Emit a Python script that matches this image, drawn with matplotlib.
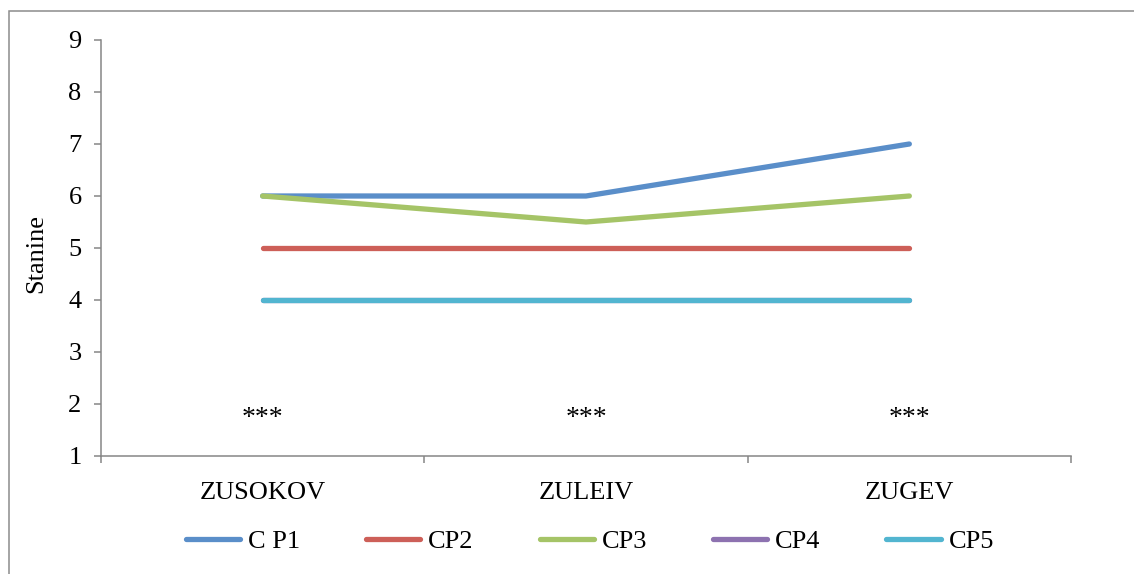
import matplotlib
matplotlib.use("Agg")
import matplotlib.pyplot as plt
from matplotlib.patches import Rectangle

categories = ["ZUSOKOV", "ZULEIV", "ZUGEV"]
series_names = ["C P1", "CP2", "CP3", "CP4", "CP5"]
cp1 = [6, 6, 7]
cp2 = [5, 5, 5]
cp3 = [6, 5.5, 6]
cp4 = [4, 4, 4]
cp5 = [4, 4, 4]
series_values = [cp1, cp2, cp3, cp4, cp5]
colors = ["#5A8EC9", "#CD5F58", "#A5C467", "#8D72B0", "#52B5D0"]
star_label = "***"
star_y = 1.6
y_ticks = [1, 2, 3, 4, 5, 6, 7, 8, 9]

W, H = 1134, 574
plt.rcParams['font.family'] = ['Liberation Serif', 'DejaVu Serif']
fig = plt.figure(figsize=(W / 100, H / 100), dpi=100)

# outer chart-area border
fig.patches.append(Rectangle((9 / W, -0.2), 1.5, 1.2 - 10.5 / H,
                             transform=fig.transFigure, fill=False,
                             edgecolor="#8C8C8C", linewidth=1.1, zorder=0))

ax = fig.add_axes([101 / W, 1 - 456 / H, (1071 - 101) / W, (456 - 40) / H])
x = list(range(len(categories)))
for name, vals, c in zip(series_names, series_values, colors):
    ax.plot(x, vals, color=c, linewidth=3.8, solid_capstyle="round",
            solid_joinstyle="round", label=name)
for xi in x:
    ax.text(xi, star_y, star_label, ha="center", va="baseline", fontsize=20)

ax.set_xlim(-0.5, len(categories) - 0.5)
ax.set_ylim(1, 9)
ax.set_yticks(y_ticks)
ax.set_xticks(x)
ax.set_xticklabels(categories, fontsize=19)
ax.set_xticks([i - 0.5 for i in range(len(categories) + 1)], minor=True)
ax.tick_params(axis="x", which="major", length=0, pad=19)
ax.tick_params(axis="x", which="minor", length=5, width=1.1, color="#868686", direction="out")
ax.tick_params(axis="y", which="major", length=5, width=1.1, color="#868686", direction="out",
               labelsize=19, pad=9)
for s in ["top", "right"]:
    ax.spines[s].set_visible(False)
for s in ["left", "bottom"]:
    ax.spines[s].set_color("#868686")
    ax.spines[s].set_linewidth(1.1)

fig.text(36 / W, 1 - 254 / H, "Stanine", rotation=90, ha="center", va="center", fontsize=19)

fig.legend(loc="center", bbox_to_anchor=(590 / W, 1 - 541 / H), ncol=5, frameon=False,
           fontsize=19, handlelength=2.05, handletextpad=0.3, columnspacing=2.5)

fig.savefig("out.png", dpi=100)
